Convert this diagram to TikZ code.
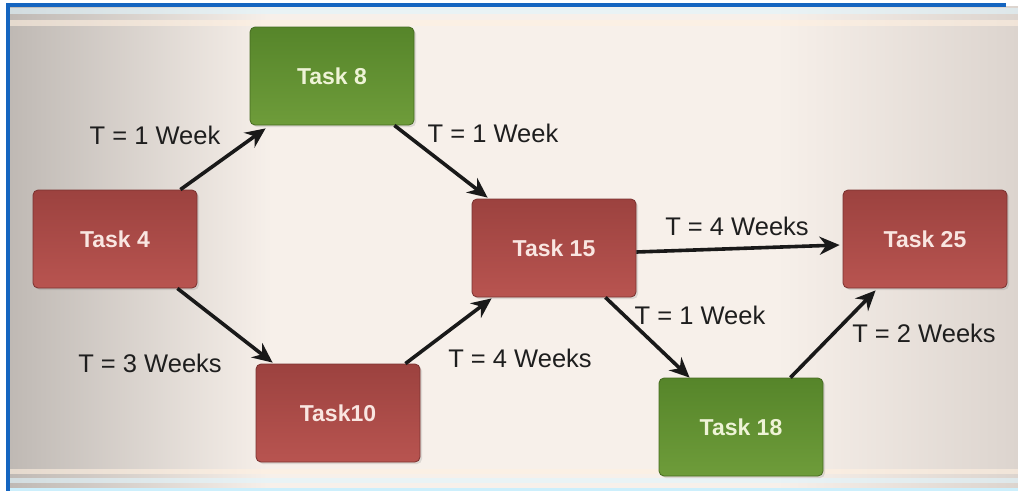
\documentclass[tikz,border=0pt]{standalone}
\usepackage{fontspec}
\setmainfont{Liberation Sans}
\usetikzlibrary{arrows.meta,calc,shadows}
\definecolor{bgL}{HTML}{BFB9B4}
\definecolor{bgM}{HTML}{F7F0EA}
\definecolor{bgR}{HTML}{DCD4CE}
\definecolor{frameblue}{HTML}{1565C0}
\definecolor{redtop}{HTML}{9C423F}
\definecolor{redbot}{HTML}{B85450}
\definecolor{redline}{HTML}{7A3230}
\definecolor{redtext}{HTML}{F9E6E1}
\definecolor{grntop}{HTML}{56852A}
\definecolor{grnbot}{HTML}{6E9C3A}
\definecolor{grnline}{HTML}{466B20}
\definecolor{grntext}{HTML}{EEF3D6}
\definecolor{labelink}{HTML}{1E1E1E}
% visible part of a TikZ shading runs from 25bp to 75bp
\pgfdeclarehorizontalshading{backdrop}{100bp}{color(0bp)=(bgL); color(25bp)=(bgL); color(38bp)=(bgM); color(63bp)=(bgM); color(75bp)=(bgR); color(100bp)=(bgR)}
\tikzset{
  taskbox/.style={rectangle, rounded corners=5pt, minimum width=164pt, minimum height=98pt,
    inner sep=0pt, line width=0.8pt, font=\fontsize{23}{27}\selectfont\bfseries,
    drop shadow={opacity=0.22, shadow xshift=2pt, shadow yshift=-2pt}},
  redtask/.style={taskbox, draw=redline, top color=redtop, bottom color=redbot, text=redtext},
  greentask/.style={taskbox, draw=grnline, top color=grntop, bottom color=grnbot, text=grntext},
  duration/.style={font=\fontsize{25.5}{30}\selectfont, text=labelink, inner sep=0pt},
  link/.style={line width=3.6pt, draw=black!90, -{Stealth[length=20pt,width=18pt]}}
}
\begin{document}
\begin{tikzpicture}[x=1pt,y=-1pt]
  % canvas and framed backdrop
  \useasboundingbox (0,0) rectangle (1018,491);
  \fill[white] (0,0) rectangle (1018,491);
  \shade[shading=backdrop] (10,6) rectangle (1018,489);
  \fill[cyan!12, opacity=0.6] (10,8) rectangle (1018,14);
  \fill[orange!12, opacity=0.6] (10,20) rectangle (1018,26);
  \fill[cyan!12, opacity=0.6] (10,478) rectangle (1018,483);
  \fill[orange!12, opacity=0.6] (10,469) rectangle (1018,474);
  \fill[frameblue] (7,3) rectangle (1006,6.5);
  \fill[frameblue] (6,3) rectangle (10,491);
  \fill[cyan!20!white] (10,488) rectangle (1018,491);

  % tasks
  \node[redtask]   (t4)  at (115,239) {Task 4};
  \node[greentask] (t8)  at (332,76)  {Task 8};
  \node[redtask]   (t15) at (554,248) {Task 15};
  \node[redtask]   (t10) at (338,413) {Task10};
  \node[greentask] (t18) at (741,427) {Task 18};
  \node[redtask]   (t25) at (925,239) {Task 25};

  % dependencies
  \draw[link] ($(t4.north east)+(-17,0)$)  -- ($(t8.south west)+(16,3)$);
  \draw[link] ($(t8.south east)+(-20,0)$)  -- ($(t15.north west)+(16,-1)$);
  \draw[link] ($(t4.south east)+(-20,0)$)  -- ($(t10.north west)+(17,-1)$);
  \draw[link] ($(t10.north east)+(-15,0)$) -- ($(t15.south west)+(20,1)$);
  \draw[link] ($(t15.east)+(0,4)$)         -- ($(t25.west)+(-3,6)$);
  \draw[link] ($(t15.south east)+(-31,0)$) -- ($(t18.north west)+(31,0)$);
  \draw[link] ($(t18.north east)+(-33,0)$) -- ($(t25.south west)+(33,2)$);

  % durations
  \node[duration] (d48)   at (155,135) {T = 1 Week};
  \node[duration] (d815)  at (493,133) {T = 1 Week};
  \node[duration] (d410)  at (150,363) {T = 3 Weeks};
  \node[duration] (d1015) at (520,358) {T = 4 Weeks};
  \node[duration] (d1525) at (737,226) {T = 4 Weeks};
  \node[duration] (d1518) at (700,315) {T = 1 Week};
  \node[duration] (d1825) at (924,333) {T = 2 Weeks};
\end{tikzpicture}
\end{document}
